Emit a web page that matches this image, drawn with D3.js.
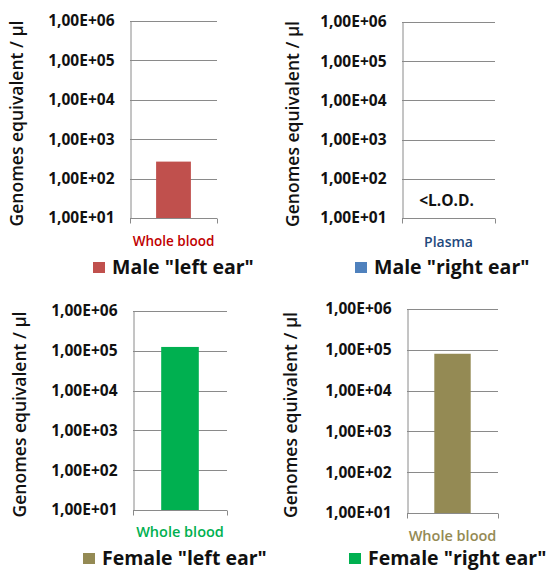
<!DOCTYPE html>
<html>
<head>
<meta charset="utf-8">
<script src="https://cdn.jsdelivr.net/npm/d3@7"></script>
<style>
  html, body { margin: 0; padding: 0; background: #fff; }
  svg { display: block; }
  text { font-family: "Open Sans", Lato, sans-serif; }
</style>
</head>
<body>
<svg id="chart" width="548" height="570"></svg>
<script>
// Genome equivalents per µl, one panel per sample group
const panelCategories = ["Whole blood", "Plasma", "Whole blood", "Whole blood"];
const panelValues = [270, null, 125000, 80000];           // null = below limit of detection
const legendLabels = ['Male "left ear"', 'Male "right ear"', 'Female "left ear"', 'Female "right ear"'];
const barColors = ["#C0504D", "#4F81BD", "#00B050", "#948A54"];
const legendColors = ["#C0504D", "#4F81BD", "#948A54", "#00B050"];
const categoryColors = ["#C00000", "#1F497D", "#00B050", "#948A54"];
const tickValues = [1e1, 1e2, 1e3, 1e4, 1e5, 1e6];
const tickLabels = ["1,00E+01", "1,00E+02", "1,00E+03", "1,00E+04", "1,00E+05", "1,00E+06"];
const yTitle = "Genomes equivalent / µl";
const lodLabel = "<L.O.D.";

// Panel geometry (plot box, title and legend anchors)
const layouts = [
  { x0: 130, x1: 217, y0: 21,  y1: 218, titleX: 18,  catY: 246, catSize: 13.5, legX: 93,  legY: 274 },
  { x0: 402, x1: 495, y0: 22,  y1: 218, titleX: 294, catY: 247, catSize: 14,   legX: 355, legY: 274 },
  { x0: 133, x1: 227, y0: 311, y1: 510, titleX: 21,  catY: 537, catSize: 14.5, legX: 83,  legY: 565 },
  { x0: 407, x1: 498, y0: 309, y1: 513, titleX: 292, catY: 541, catSize: 14.5, legX: 349, legY: 565 }
];

const svg = d3.select("#chart");
const gridColor = "#8a8a8a";

layouts.forEach((L, i) => {
  const g = svg.append("g");
  const y = d3.scaleLog().domain([1e1, 1e6]).range([L.y1, L.y0]);
  const x = d3.scaleBand().domain([panelCategories[i]]).range([L.x0, L.x1]).paddingInner(0.6).paddingOuter(0.3);

  // horizontal gridlines
  g.selectAll("line.grid").data(tickValues.slice(1)).join("line")
    .attr("x1", L.x0).attr("x2", L.x1)
    .attr("y1", d => Math.round(y(d)) + 0.5).attr("y2", d => Math.round(y(d)) + 0.5)
    .attr("stroke", gridColor).attr("stroke-width", 1);

  // bar
  if (panelValues[i] != null) {
    g.append("rect")
      .attr("x", x(panelCategories[i]))
      .attr("width", x.bandwidth())
      .attr("y", y(panelValues[i]))
      .attr("height", L.y1 - y(panelValues[i]))
      .attr("fill", barColors[i]);
  } else {
    g.append("text")
      .attr("x", (L.x0 + L.x1) / 2 - 2)
      .attr("y", y(10 ** 1.42))
      .attr("text-anchor", "middle").attr("dominant-baseline", "middle")
      .attr("font-size", 15.5).attr("font-weight", "bold").attr("fill", "#111")
      .text(lodLabel);
  }

  // value axis (left) with formatted tick labels
  const yAxis = d3.axisLeft(y).tickValues(tickValues)
    .tickFormat((d, k) => tickLabels[k]).tickSize(0).tickPadding(16);
  const ya = g.append("g").attr("transform", `translate(${L.x0 + 0.5},0)`).call(yAxis);
  ya.select(".domain").attr("stroke", gridColor);
  ya.selectAll("text").attr("font-size", 15.5).attr("font-weight", "bold").attr("fill", "#111")
    .attr("font-family", "'Open Sans', sans-serif");

  // category axis (bottom) with end ticks
  const xa = g.append("g").attr("transform", `translate(0,${Math.round(L.y1) + 0.5})`);
  xa.append("line").attr("x1", L.x0).attr("x2", L.x1).attr("stroke", gridColor);
  xa.selectAll("line.tick").data([L.x0, L.x1]).join("line")
    .attr("x1", d => d + 0.5).attr("x2", d => d + 0.5).attr("y1", 0).attr("y2", 5)
    .attr("stroke", gridColor);

  g.append("text")
    .attr("x", (L.x0 + L.x1) / 2).attr("y", L.catY)
    .attr("text-anchor", "middle").attr("font-size", L.catSize).attr("font-weight", 600)
    .attr("fill", categoryColors[i]).text(panelCategories[i]);

  // rotated value-axis title
  g.append("text")
    .attr("transform", `translate(${L.titleX},${(L.y0 + L.y1) / 2 + 4}) rotate(-90)`)
    .attr("text-anchor", "middle").attr("dominant-baseline", "middle")
    .attr("font-size", 17.5).attr("font-weight", 600).attr("fill", "#111")
    .text(yTitle);

  // legend
  g.append("rect").attr("x", L.legX).attr("y", L.legY - 12).attr("width", 12).attr("height", 11)
    .attr("fill", legendColors[i]);
  g.append("text").attr("x", L.legX + 19).attr("y", L.legY)
    .attr("font-size", 19.5).attr("font-weight", "bold").attr("fill", "#111")
    .text(legendLabels[i]);
});
</script>
</body>
</html>
